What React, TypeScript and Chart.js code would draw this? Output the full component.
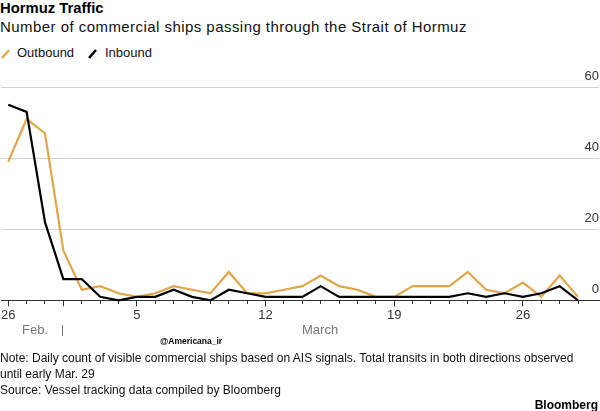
import React, { useEffect, useRef } from 'react';
import { Chart, registerables } from 'chart.js';

Chart.register(...registerables);

// ---- data ----
const dates = [
  'Feb 26', 'Feb 27', 'Feb 28', 'Mar 1', 'Mar 2', 'Mar 3', 'Mar 4', 'Mar 5',
  'Mar 6', 'Mar 7', 'Mar 8', 'Mar 9', 'Mar 10', 'Mar 11', 'Mar 12', 'Mar 13',
  'Mar 14', 'Mar 15', 'Mar 16', 'Mar 17', 'Mar 18', 'Mar 19', 'Mar 20', 'Mar 21',
  'Mar 22', 'Mar 23', 'Mar 24', 'Mar 25', 'Mar 26', 'Mar 27', 'Mar 28', 'Mar 29',
];
const outbound = [39, 51, 47, 14, 3, 4, 2, 1, 2, 4, 3, 2, 8, 2, 2, 3, 4, 7, 4, 3, 1, 1, 4, 4, 4, 8, 3, 2, 5, 1, 7, 1];
const inbound = [55, 53, 22, 6, 6, 1, 0, 1, 1, 3, 1, 0, 3, 2, 1, 1, 1, 4, 1, 1, 1, 1, 1, 1, 1, 2, 1, 2, 1, 2, 4, 0];
const xTickDays = [0, 7, 14, 21, 28];
const xTickLabels = ['26', '5', '12', '19', '26'];
const monthStartDays = [3];
const yTicks = [0, 20, 40, 60];

const ORANGE = '#e2a64a';
const FONT = '"Liberation Sans", Arial, Helvetica, sans-serif';

function isMajor(v: number) {
  return xTickDays.includes(v) || monthStartDays.includes(v);
}

function ChartCanvas() {
  const ref = useRef<HTMLCanvasElement | null>(null);
  useEffect(() => {
    if (!ref.current) return;
    const chart = new Chart(ref.current, {
      type: 'line',
      data: {
        datasets: [
          {
            label: 'Inbound',
            data: inbound.map((v, i) => ({ x: i, y: v })),
            borderColor: '#000000',
            backgroundColor: '#000000',
            borderWidth: 2.2,
            pointRadius: 0,
            tension: 0,
            clip: false,
          },
          {
            label: 'Outbound',
            data: outbound.map((v, i) => ({ x: i, y: v })),
            borderColor: ORANGE,
            backgroundColor: ORANGE,
            borderWidth: 2.2,
            pointRadius: 0,
            tension: 0,
            clip: false,
          },
        ],
      },
      options: {
        animation: false,
        responsive: true,
        maintainAspectRatio: false,
        layout: { padding: { top: 25, right: 1, left: 0, bottom: 0 } },
        plugins: { legend: { display: false }, tooltip: { enabled: false } },
        events: [],
        scales: {
          x: {
            type: 'linear',
            min: -0.392,
            max: 32.14,
            afterBuildTicks: (axis: any) => {
              axis.ticks = dates.map((_, i) => ({ value: i }));
            },
            grid: {
              drawOnChartArea: false,
              drawTicks: true,
              tickLength: 6,
              tickColor: '#333333',
              tickWidth: 1,
              tickBorderDash: (ctx: any) => (ctx.tick && isMajor(ctx.tick.value) ? [] : [3, 30]),
            },
            border: { display: true, color: '#333333', width: 1 },
            ticks: {
              autoSkip: false,
              maxRotation: 0,
              minRotation: 0,
              padding: 1,
              color: '#333333',
              font: { size: 13, family: FONT },
              callback: (v: any) => {
                const k = xTickDays.indexOf(Number(v));
                return k >= 0 ? xTickLabels[k] : '';
              },
            },
          },
          y: {
            position: 'right',
            min: 0,
            max: 60,
            afterBuildTicks: (axis: any) => {
              axis.ticks = yTicks.map((v) => ({ value: v }));
            },
            grid: {
              color: (ctx: any) => (ctx.tick && ctx.tick.value === 0 ? 'rgba(0,0,0,0)' : '#d4d4d4'),
              lineWidth: 1,
              drawTicks: false,
            },
            border: { display: false },
            ticks: {
              mirror: true,
              padding: 0,
              labelOffset: -11,
              color: '#333333',
              font: { size: 13, family: FONT },
            },
          },
        },
      },
    });
    return () => chart.destroy();
  }, []);
  return <canvas ref={ref} />;
}

const abs = (style: React.CSSProperties): React.CSSProperties => ({
  position: 'absolute',
  whiteSpace: 'nowrap',
  fontFamily: FONT,
  margin: 0,
  ...style,
});

export default function App() {
  return (
    <div
      style={{
        position: 'fixed',
        left: 0,
        top: 0,
        width: 600,
        height: 411,
        background: '#ffffff',
        overflow: 'hidden',
        fontFamily: FONT,
      }}
    >
      <div style={abs({ left: 0, top: -1, fontSize: 14.8, lineHeight: '18px', fontWeight: 700, color: '#000' })}>
        Hormuz Traffic
      </div>
      <div style={abs({ left: 0, top: 17.5, fontSize: 15, lineHeight: '18px', letterSpacing: '0.45px', color: '#111' })}>
        Number of commercial ships passing through the Strait of Hormuz
      </div>

      {/* legend */}
      <svg style={{ position: 'absolute', left: 0, top: 46 }} width={110} height={16}>
        <line x1={2} y1={12} x2={9} y2={4} stroke={ORANGE} strokeWidth={2.6} />
        <line x1={89} y1={12} x2={96} y2={4} stroke="#000" strokeWidth={2.6} />
      </svg>
      <div style={abs({ left: 17, top: 45, fontSize: 13, lineHeight: '16px', color: '#111' })}>Outbound</div>
      <div style={abs({ left: 105, top: 45, fontSize: 13, lineHeight: '16px', color: '#111' })}>Inbound</div>

      <div style={{ position: 'absolute', left: 0, top: 62, width: 600, height: 262 }}>
        <ChartCanvas />
      </div>

      {/* month labels */}
      <div style={abs({ left: 22, top: 322, fontSize: 13, lineHeight: '16px', color: '#777' })}>Feb.</div>
      <div style={{ position: 'absolute', left: 62, top: 325, width: 1, height: 11, background: '#777' }} />
      <div style={abs({ left: 302, top: 322, fontSize: 13, lineHeight: '16px', color: '#777' })}>March</div>

      <div style={abs({ left: 160, top: 336, fontSize: 8.5, lineHeight: '10px', fontWeight: 700, color: '#000' })}>
        @Americana_ir
      </div>

      <div style={abs({ left: 0, top: 350, fontSize: 12, lineHeight: '16px', color: '#111' })}>
        Note: Daily count of visible commercial ships based on AIS signals. Total transits in both directions observed
      </div>
      <div style={abs({ left: 0, top: 366, fontSize: 12, lineHeight: '16px', color: '#111' })}>until early Mar. 29</div>
      <div style={abs({ left: 0, top: 382, fontSize: 12, lineHeight: '16px', color: '#111' })}>
        Source: Vessel tracking data compiled by Bloomberg
      </div>
      <div style={abs({ right: 2, top: 397, fontSize: 12, lineHeight: '16px', fontWeight: 700, color: '#000' })}>
        Bloomberg
      </div>
    </div>
  );
}
